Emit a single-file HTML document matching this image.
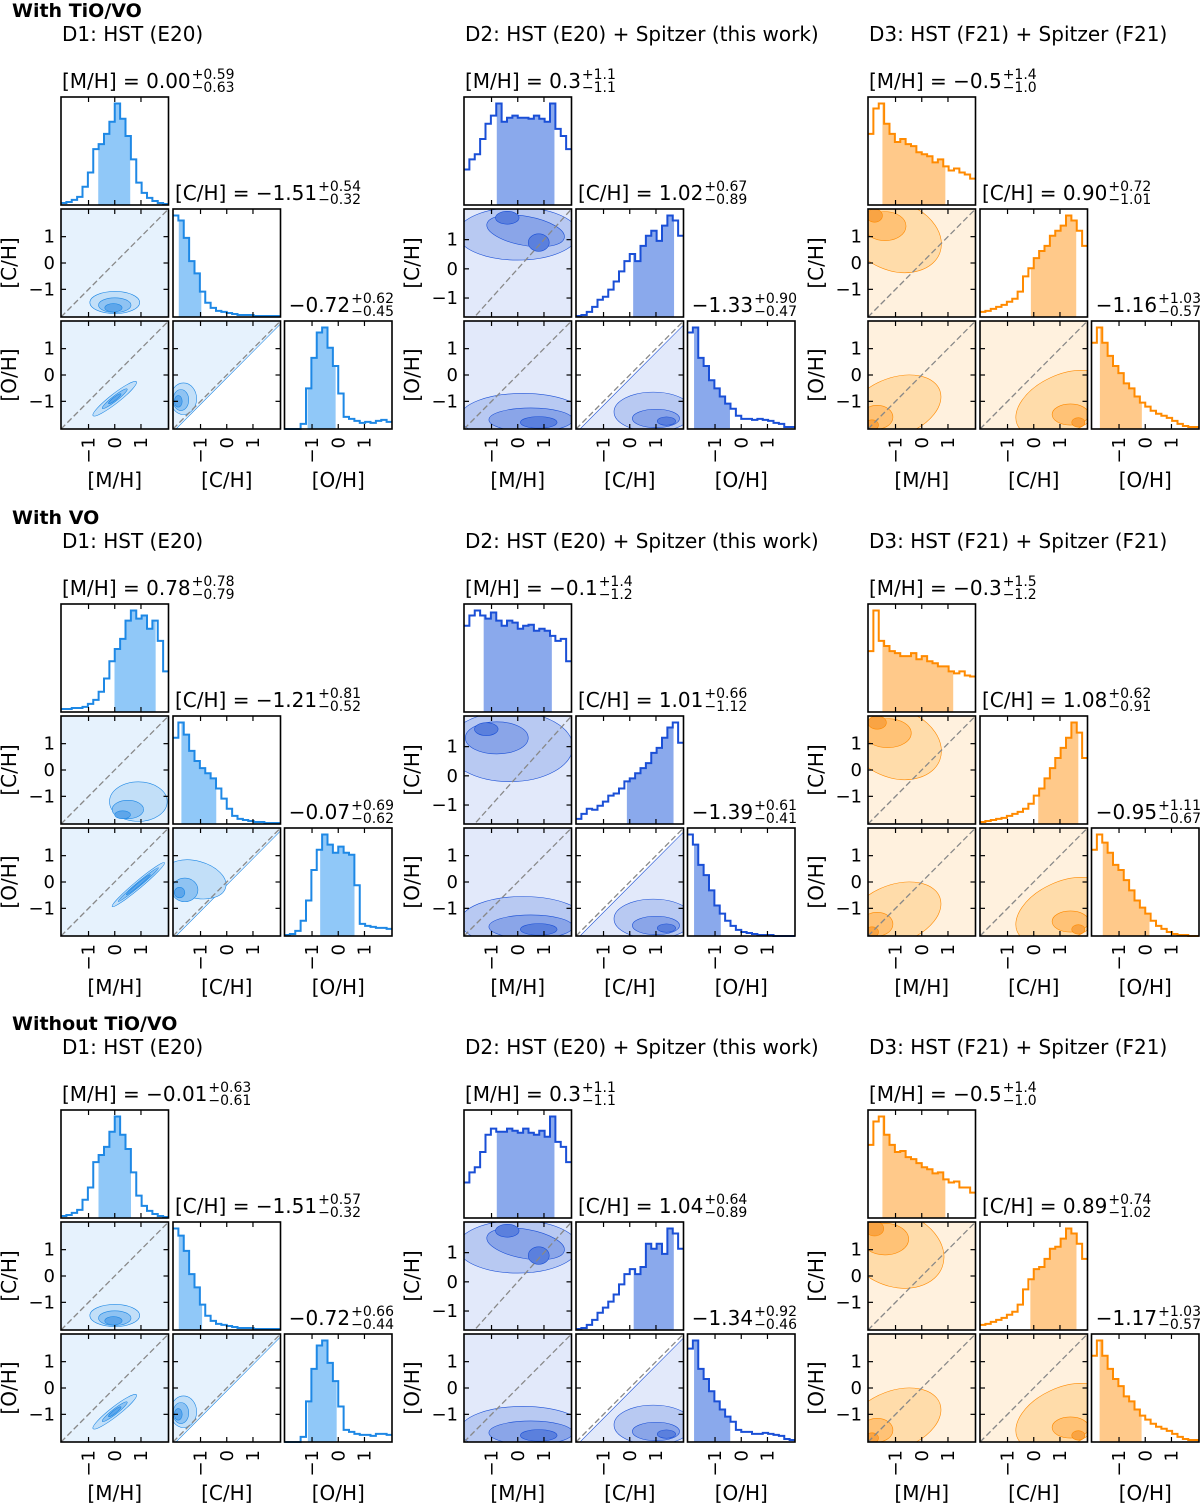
<!DOCTYPE html>
<html><head><meta charset="utf-8"><style>
html,body{margin:0;padding:0;background:#fff;}
svg{display:block;font-family:"DejaVu Sans","Liberation Sans",sans-serif;}
</style></head><body>
<svg id="fig" width="1200" height="1503" viewBox="0 0 1200 1503" xmlns="http://www.w3.org/2000/svg"></svg>
<script>
// ---- data ----
const sectionTitles = ["With TiO/VO","With VO","Without TiO/VO"];
const datasetTitles = ["D1: HST (E20)","D2: HST (E20) + Spitzer (this work)","D3: HST (F21) + Spitzer (F21)"];
const paramNames = ["[M/H]","[C/H]","[O/H]"];
const tickValues = [-1,0,1];
// [median, plus, minus, label, plusLabel, minusLabel]
const summaries = [
 [[[0.00,0.59,0.63,"0.00","+0.59","−0.63"],[-1.51,0.54,0.32,"−1.51","+0.54","−0.32"],[-0.72,0.62,0.45,"−0.72","+0.62","−0.45"]],
  [[0.3,1.1,1.1,"0.3","+1.1","−1.1"],[1.02,0.67,0.89,"1.02","+0.67","−0.89"],[-1.33,0.90,0.47,"−1.33","+0.90","−0.47"]],
  [[-0.5,1.4,1.0,"−0.5","+1.4","−1.0"],[0.90,0.72,1.01,"0.90","+0.72","−1.01"],[-1.16,1.03,0.57,"−1.16","+1.03","−0.57"]]],
 [[[0.78,0.78,0.79,"0.78","+0.78","−0.79"],[-1.21,0.81,0.52,"−1.21","+0.81","−0.52"],[-0.07,0.69,0.62,"−0.07","+0.69","−0.62"]],
  [[-0.1,1.4,1.2,"−0.1","+1.4","−1.2"],[1.01,0.66,1.12,"1.01","+0.66","−1.12"],[-1.39,0.61,0.41,"−1.39","+0.61","−0.41"]],
  [[-0.3,1.5,1.2,"−0.3","+1.5","−1.2"],[1.08,0.62,0.91,"1.08","+0.62","−0.91"],[-0.95,1.11,0.67,"−0.95","+1.11","−0.67"]]],
 [[[-0.01,0.63,0.61,"−0.01","+0.63","−0.61"],[-1.51,0.57,0.32,"−1.51","+0.57","−0.32"],[-0.72,0.66,0.44,"−0.72","+0.66","−0.44"]],
  [[0.3,1.1,1.1,"0.3","+1.1","−1.1"],[1.04,0.64,0.89,"1.04","+0.64","−0.89"],[-1.34,0.92,0.46,"−1.34","+0.92","−0.46"]],
  [[-0.5,1.4,1.0,"−0.5","+1.4","−1.0"],[0.89,0.74,1.02,"0.89","+0.74","−1.02"],[-1.17,1.03,0.57,"−1.17","+1.03","−0.57"]]]
];
const histM = [
 [[0.02,0.03,0.05,0.08,0.18,0.32,0.55,0.6,0.7,0.82,1.0,0.85,0.68,0.45,0.22,0.12,0.07,0.04,0.02,0.01],
  [0.35,0.45,0.5,0.65,0.8,0.88,1.0,0.82,0.86,0.88,0.86,0.86,0.85,0.88,0.85,0.82,1.0,0.75,0.68,0.55],
  [0.7,0.95,1.0,0.8,0.7,0.62,0.65,0.6,0.58,0.52,0.5,0.48,0.42,0.45,0.38,0.34,0.36,0.32,0.3,0.26]],
 [[0.03,0.03,0.04,0.04,0.05,0.08,0.12,0.2,0.33,0.5,0.62,0.72,0.9,1.0,0.92,0.95,0.82,0.9,0.7,0.4],
  [0.85,0.95,1.0,0.95,0.92,0.98,0.9,0.85,0.9,0.88,0.82,0.85,0.86,0.8,0.82,0.8,0.75,0.7,0.72,0.5],
  [0.6,1.0,0.7,0.65,0.6,0.58,0.55,0.55,0.58,0.52,0.55,0.5,0.48,0.45,0.45,0.4,0.38,0.4,0.36,0.35]],
 [[0.02,0.03,0.05,0.08,0.18,0.3,0.55,0.62,0.7,0.85,1.0,0.82,0.68,0.45,0.22,0.12,0.07,0.04,0.02,0.01],
  [0.35,0.45,0.5,0.65,0.82,0.88,0.85,0.85,0.88,0.86,0.84,0.88,0.84,0.82,0.86,0.8,1.0,0.75,0.7,0.55],
  [0.72,0.95,1.0,0.82,0.72,0.65,0.66,0.6,0.58,0.54,0.5,0.48,0.44,0.45,0.38,0.35,0.36,0.3,0.3,0.25]]
];
const histC = [
 [[1.0,0.95,0.78,0.55,0.43,0.25,0.14,0.09,0.06,0.05,0.04,0.03,0.02,0.02,0.02,0.01,0.01,0.01,0.01,0.01],
  [0.01,0.02,0.05,0.1,0.17,0.2,0.27,0.35,0.45,0.55,0.62,0.55,0.7,0.8,0.85,0.75,0.9,1.0,0.95,0.8],
  [0.05,0.06,0.08,0.1,0.12,0.15,0.18,0.25,0.4,0.48,0.58,0.65,0.7,0.8,0.85,0.9,1.0,0.95,0.85,0.7]],
 [[0.85,1.0,0.88,0.72,0.62,0.55,0.5,0.45,0.35,0.25,0.15,0.08,0.05,0.04,0.03,0.02,0.02,0.01,0.01,0.01],
  [0.05,0.1,0.15,0.14,0.18,0.22,0.28,0.3,0.35,0.42,0.45,0.5,0.55,0.6,0.7,0.75,0.85,0.95,1.0,0.8],
  [0.02,0.03,0.04,0.05,0.06,0.08,0.1,0.12,0.15,0.2,0.28,0.35,0.45,0.55,0.65,0.75,0.85,1.0,0.9,0.65]],
 [[1.0,0.93,0.78,0.55,0.42,0.25,0.14,0.09,0.06,0.05,0.04,0.03,0.02,0.02,0.02,0.01,0.01,0.01,0.01,0.01],
  [0.01,0.02,0.05,0.1,0.17,0.22,0.28,0.35,0.45,0.55,0.6,0.55,0.62,0.85,0.8,0.85,0.75,1.0,0.95,0.8],
  [0.05,0.06,0.08,0.1,0.12,0.15,0.18,0.25,0.4,0.5,0.6,0.62,0.7,0.8,0.82,0.9,1.0,0.95,0.85,0.7]]
];
const histO = [
 [[0,0,0,0.05,0.4,0.7,0.95,1.0,0.8,0.62,0.35,0.12,0.1,0.08,0.06,0.07,0.06,0.08,0.09,0.07],
  [0.95,1.0,0.7,0.62,0.48,0.4,0.32,0.25,0.2,0.13,0.1,0.1,0.09,0.1,0.09,0.08,0.06,0.05,0.02,0.02],
  [0.85,1.0,0.85,0.72,0.62,0.55,0.45,0.4,0.32,0.26,0.22,0.18,0.15,0.13,0.11,0.08,0.05,0.03,0.02,0.02]],
 [[0.01,0.02,0.05,0.15,0.35,0.65,0.85,1.0,0.9,0.82,0.88,0.82,0.8,0.5,0.12,0.1,0.09,0.08,0.08,0.07],
  [1.0,0.9,0.7,0.6,0.45,0.3,0.22,0.15,0.1,0.06,0.04,0.03,0.02,0.01,0.01,0.01,0,0,0,0],
  [0.85,1.0,0.92,0.82,0.7,0.65,0.55,0.45,0.35,0.28,0.22,0.15,0.1,0.07,0.04,0.02,0.01,0.01,0,0]],
 [[0,0,0,0.05,0.4,0.72,0.95,1.0,0.78,0.6,0.35,0.12,0.1,0.08,0.07,0.07,0.06,0.08,0.08,0.07],
  [0.92,1.0,0.72,0.62,0.5,0.4,0.32,0.25,0.2,0.12,0.1,0.1,0.08,0.08,0.09,0.08,0.07,0.06,0.03,0.02],
  [0.85,1.0,0.85,0.72,0.62,0.55,0.45,0.4,0.32,0.26,0.22,0.18,0.15,0.13,0.11,0.08,0.05,0.03,0.02,0.02]]
];
// 2D density blobs: [cx, cy, rx, ry, angleDeg, level]
const blobsCM = [
 [[[0,-1.5,0.95,0.42,0,1],[0,-1.6,0.62,0.28,0,2],[-0.05,-1.7,0.33,0.16,0,3]],
  [[0,1.2,2.3,0.9,0,1],[0.3,1.3,1.5,0.5,-10,2],[-0.4,1.75,0.45,0.22,0,3],[0.8,0.9,0.4,0.3,0,3]],
  [[-1.0,1.0,1.8,1.3,-20,1],[-1.4,1.4,0.8,0.55,0,2],[-1.8,1.8,0.3,0.25,0,3]]],
 [[[0.9,-1.2,1.1,0.75,0,1],[0.5,-1.5,0.6,0.35,0,2],[0.3,-1.7,0.3,0.15,0,3]],
  [[-0.3,1.0,2.4,1.2,0,1],[-0.8,1.3,1.2,0.55,0,2],[-1.2,1.6,0.45,0.22,0,3]],
  [[-1.0,1.0,1.8,1.3,-20,1],[-1.3,1.4,0.9,0.55,0,2],[-1.7,1.8,0.35,0.25,0,3]]],
 [[[0,-1.5,0.95,0.42,0,1],[0,-1.6,0.62,0.28,0,2],[-0.05,-1.7,0.33,0.16,0,3]],
  [[0,1.2,2.3,0.9,0,1],[0.3,1.3,1.5,0.5,-10,2],[-0.4,1.75,0.45,0.22,0,3],[0.8,0.9,0.4,0.3,0,3]],
  [[-1.0,1.0,1.9,1.4,-20,1],[-1.4,1.4,0.9,0.6,0,2],[-1.8,1.8,0.35,0.28,0,3]]]
];
const blobsOM = [
 [[[0,-0.9,1.05,0.18,38,1],[0,-0.9,0.6,0.1,38,2],[0,-0.9,0.3,0.06,38,3]],
  [[0.2,-1.6,2.4,0.9,0,1],[0.5,-1.7,1.6,0.45,0,2],[0.8,-1.8,0.7,0.22,0,3]],
  [[-1.0,-1.2,1.8,1.1,20,1],[-1.7,-1.6,0.6,0.45,0,2],[-1.9,-1.9,0.25,0.2,0,3]]],
 [[[0.9,-0.1,1.3,0.14,40,1],[0.9,-0.1,1.0,0.08,40,2],[0.9,-0.1,0.6,0.05,40,3]],
  [[0.2,-1.5,2.4,0.95,0,1],[0.5,-1.7,1.6,0.45,0,2],[0.8,-1.8,0.7,0.22,0,3]],
  [[-1.0,-1.2,1.8,1.1,20,1],[-1.7,-1.6,0.6,0.45,0,2],[-1.9,-1.9,0.25,0.2,0,3]]],
 [[[0,-0.9,1.05,0.18,38,1],[0,-0.9,0.6,0.1,38,2],[0,-0.9,0.3,0.06,38,3]],
  [[0.2,-1.6,2.4,0.9,0,1],[0.5,-1.7,1.6,0.45,0,2],[0.8,-1.8,0.7,0.22,0,3]],
  [[-1.0,-1.2,1.8,1.1,20,1],[-1.7,-1.6,0.6,0.45,0,2],[-1.9,-1.9,0.25,0.2,0,3]]]
];
const blobsOC = [
 [[[-1.65,-0.9,0.5,0.6,0,1],[-1.75,-0.95,0.3,0.4,0,2],[-1.85,-1.0,0.15,0.22,0,3]],
  [[0.9,-1.4,1.5,0.75,0,1],[1.0,-1.65,0.9,0.35,0,2],[1.4,-1.75,0.35,0.16,0,3]],
  [[1.1,-1.1,1.9,1.1,25,1],[1.4,-1.5,0.7,0.4,0,2],[1.7,-1.8,0.25,0.18,0,3]]],
 [[[-1.2,0.1,1.2,0.7,-15,1],[-1.6,-0.3,0.5,0.45,0,2],[-1.8,-0.4,0.2,0.2,0,3]],
  [[0.9,-1.4,1.5,0.75,0,1],[1.0,-1.65,0.9,0.35,0,2],[1.4,-1.75,0.35,0.16,0,3]],
  [[1.1,-1.1,1.9,1.1,25,1],[1.4,-1.5,0.7,0.4,0,2],[1.7,-1.8,0.25,0.18,0,3]]],
 [[[-1.65,-0.9,0.5,0.6,0,1],[-1.75,-0.95,0.3,0.4,0,2],[-1.85,-1.0,0.15,0.22,0,3]],
  [[0.9,-1.4,1.5,0.75,0,1],[1.0,-1.65,0.9,0.35,0,2],[1.4,-1.75,0.35,0.16,0,3]],
  [[1.1,-1.1,1.9,1.1,25,1],[1.4,-1.5,0.7,0.4,0,2],[1.7,-1.8,0.25,0.18,0,3]]]
];
const bgOC = ["above","below","full"];

const palettes = [
 {line:"#1e88e5", fill:"#90c8f8", lv:["#e6f2fd","#c2dff8","#8fc3f2","#5ea6ea","#3a8ee0"]},
 {line:"#1a4fd6", fill:"#8aa9ec", lv:["#e2e9fa","#b8c9f2","#8aa5e8","#5b80dd","#3a60d0"]},
 {line:"#ff8a00", fill:"#ffc98a", lv:["#fff1de","#ffdcaa","#ffc276","#f9a444","#ef8a22"]}
];
const NS = "http://www.w3.org/2000/svg";
const svg = document.getElementById("fig");
const SECT = [0,507,1013], X0 = [61,464,868], PW = 107.5, PH = 108, STEP = 112;
const XR = [-2.05,2.05];
function mk(tag, attrs, parent){const e=document.createElementNS(NS,tag);for(const k in attrs)e.setAttribute(k,attrs[k]);(parent||svg).appendChild(e);return e;}
function sx(v,px,lo,hi){return px+(v-lo)/(hi-lo)*PW;}
function sy(v,py,lo,hi){return py+PH-(v-lo)/(hi-lo)*PH;}
let clipId=0;

function titleWithErr(x,y,prefix,s,rightAlign,g,name){
  const t=mk("text",{x:x,y:y,"font-size":20,fill:"#000"},g);
  
  
  t.textContent=prefix+s[3];
  const w=t.getComputedTextLength();
  const sup=mk("text",{y:y-9,"font-size":14},g); sup.textContent=s[4];
  const sub=mk("text",{y:y+4,"font-size":14},g); sub.textContent=s[5];
  const ws=Math.max(sup.getComputedTextLength(),sub.getComputedTextLength());
  let bx=x;
  if(rightAlign){bx=x-w-ws;t.setAttribute("x",bx);}
  sup.setAttribute("x",bx+w+1);sub.setAttribute("x",bx+w+1);
}

function frame(g,px,py,ylo,yhi,yt){
  for(const v of tickValues){
    const xx=sx(v,px,XR[0],XR[1]);
    mk("line",{x1:xx,x2:xx,y1:py,y2:py+5,stroke:"#000","stroke-width":1.2},g);
    mk("line",{x1:xx,x2:xx,y1:py+PH,y2:py+PH-5,stroke:"#000","stroke-width":1.2},g);
    if(yt){const yy=sy(v,py,ylo,yhi);
      mk("line",{x1:px,x2:px+5,y1:yy,y2:yy,stroke:"#000","stroke-width":1.2},g);
      mk("line",{x1:px+PW,x2:px+PW-5,y1:yy,y2:yy,stroke:"#000","stroke-width":1.2},g);}
  }
  const r=mk("rect",{x:px,y:py,width:PW,height:PH,fill:"none",stroke:"#000","stroke-width":1.6},g);
  
  
}

function hist(g,px,py,vals,s,pal,name){
  const n=vals.length, bw=(XR[1]-XR[0])/n, mx=Math.max(...vals);
  const hy=v=>py+PH-v/mx*PH*0.94;
  const lo=s[0]-s[2], hi=s[0]+s[1];
  let poly=[];
  for(let i=0;i<n;i++){
    const a=XR[0]+i*bw,b=a+bw, l=Math.max(a,lo), r=Math.min(b,hi);
    if(r>l){poly.push([sx(l,px,XR[0],XR[1]),hy(vals[i])],[sx(r,px,XR[0],XR[1]),hy(vals[i])]);}
  }
  if(poly.length){
    const d="M"+poly[0][0]+","+(py+PH)+" "+poly.map(p=>"L"+p[0]+","+p[1]).join(" ")+" L"+poly[poly.length-1][0]+","+(py+PH)+"Z";
    const f=mk("path",{d:d,fill:pal.fill,stroke:"none"},g);
    
    
  }
  let d="M"+px+","+hy(vals[0]);
  for(let i=0;i<n;i++){const a=sx(XR[0]+i*bw,px,XR[0],XR[1]),b=sx(XR[0]+(i+1)*bw,px,XR[0],XR[1]);d+=" L"+a+","+hy(vals[i])+" L"+b+","+hy(vals[i]);}
  const p=mk("path",{d:d,fill:"none",stroke:pal.line,"stroke-width":2},g);
  
  
}

function dens(g,px,py,blobs,bg,pal,ylo,yhi,name){
  const id="c"+(clipId++);
  const cp=mk("clipPath",{id:id},g); mk("rect",{x:px,y:py,width:PW,height:PH},cp);
  const gg=mk("g",{"clip-path":"url(#"+id+")"},g);
  
  
  const x1=sx(XR[0],px,XR[0],XR[1]),x2=sx(XR[1],px,XR[0],XR[1]);
  const dl=[[x1,sy(XR[0],py,ylo,yhi)],[x2,sy(XR[1],py,ylo,yhi)]];
  if(bg==="full") mk("rect",{x:px,y:py,width:PW,height:PH,fill:pal.lv[0],stroke:pal.line,"stroke-width":0.6},gg);
  else if(bg==="above") mk("polygon",{points:`${px},${py} ${px+PW},${py} ${dl[1][0]},${dl[1][1]+3} ${dl[0][0]},${dl[0][1]+3}`,fill:pal.lv[0],stroke:pal.line,"stroke-width":0.6},gg);
  else mk("polygon",{points:`${px},${py+PH} ${px+PW},${py+PH} ${dl[1][0]},${dl[1][1]+4} ${dl[0][0]},${dl[0][1]+4}`,fill:pal.lv[0],stroke:pal.line,"stroke-width":0.6},gg);
  for(const b of blobs){
    const cx=sx(b[0],px,XR[0],XR[1]), cy=sy(b[1],py,ylo,yhi);
    const rx=b[2]/(XR[1]-XR[0])*PW, ry=b[3]/(yhi-ylo)*PH;
    const e=mk("ellipse",{cx:cx,cy:cy,rx:rx,ry:ry,transform:`rotate(${-b[4]} ${cx} ${cy})`,fill:pal.lv[b[5]],stroke:pal.line,"stroke-width":0.6},gg);
    
    
  }
  const dg=mk("line",{x1:dl[0][0],y1:dl[0][1],x2:dl[1][0],y2:dl[1][1],stroke:"#888","stroke-width":1.3,"stroke-dasharray":"6,3"},gg);
  
  
}

for(let si=0;si<3;si++){
  const off=SECT[si];
  const st=mk("text",{x:12,y:off+17,"font-size":19,"font-weight":"bold"});
  
  
  st.textContent=sectionTitles[si];
  for(let di=0;di<3;di++){
    const pal=palettes[di], x0=X0[di], y0=97+off;
    const g=mk("g",{});
    
    
    const dt=mk("text",{x:x0+1,y:off+41,"font-size":20},g);
    
    
    dt.textContent=datasetTitles[di];
    const S=summaries[si][di];
    const cyLo = di===1 ? -1.65 : -2.05;
    const ranges=[[-2.05,2.05],[cyLo,2.05],[-2.05,2.05]];
    const P=(c,r)=>[x0+c*STEP-(c>1?0.5:0), y0+r*STEP];
    let [px,py]=P(0,0); hist(g,px,py,histM[si][di],S[0],pal,'mh'); frame(g,px,py,0,1,false);
    titleWithErr(x0+1,y0-9,"[M/H] = ",S[0],false,g,'mh-title');
    [px,py]=P(1,1); hist(g,px,py,histC[si][di],S[1],pal,'ch'); frame(g,px,py,0,1,false);
    titleWithErr(px+2,py-9,"[C/H] = ",S[1],false,g,'ch-title');
    [px,py]=P(2,2); hist(g,px,py,histO[si][di],S[2],pal,'oh'); frame(g,px,py,0,1,false);
    titleWithErr(px+PW+1,py-9,"",S[2],true,g,'oh-title');
    [px,py]=P(0,1); dens(g,px,py,blobsCM[si][di],"full",pal,ranges[1][0],ranges[1][1],'ch-vs-mh-density'); frame(g,px,py,ranges[1][0],ranges[1][1],true);
    [px,py]=P(0,2); dens(g,px,py,blobsOM[si][di],"full",pal,-2.05,2.05,'oh-vs-mh-density'); frame(g,px,py,-2.05,2.05,true);
    [px,py]=P(1,2); dens(g,px,py,blobsOC[si][di],bgOC[di],pal,-2.05,2.05,'oh-vs-ch-density'); frame(g,px,py,-2.05,2.05,true);
    for(let r=1;r<3;r++){
      const [qx,qy]=P(0,r), yr=r===1?ranges[1]:ranges[2];
      for(const v of tickValues){
        const t=mk("text",{x:qx-6,y:sy(v,qy,yr[0],yr[1])+6,"font-size":18,"text-anchor":"end"},g);
        
        
        t.textContent=v<0?"−"+Math.abs(v):String(v);
      }
      const yl=mk("text",{x:0,y:0,"font-size":20,"text-anchor":"middle",transform:`translate(${qx-45},${qy+PH/2}) rotate(-90)`},g);
      
      
      yl.textContent=paramNames[r];
    }
    for(let c=0;c<3;c++){
      const [qx,qy]=P(c,2);
      for(const v of tickValues){
        const xx=sx(v,qx,XR[0],XR[1]);
        const t=mk("text",{x:0,y:0,"font-size":18,"text-anchor":"end",transform:`translate(${xx+6},${qy+PH+8}) rotate(-90)`},g);
        
        
        t.textContent=v<0?"−"+Math.abs(v):String(v);
      }
      const xl=mk("text",{x:qx+PW/2,y:off+487,"font-size":20,"text-anchor":"middle"},g);
      
      
      xl.textContent=paramNames[c];
    }
  }
}
</script>
</body></html>
